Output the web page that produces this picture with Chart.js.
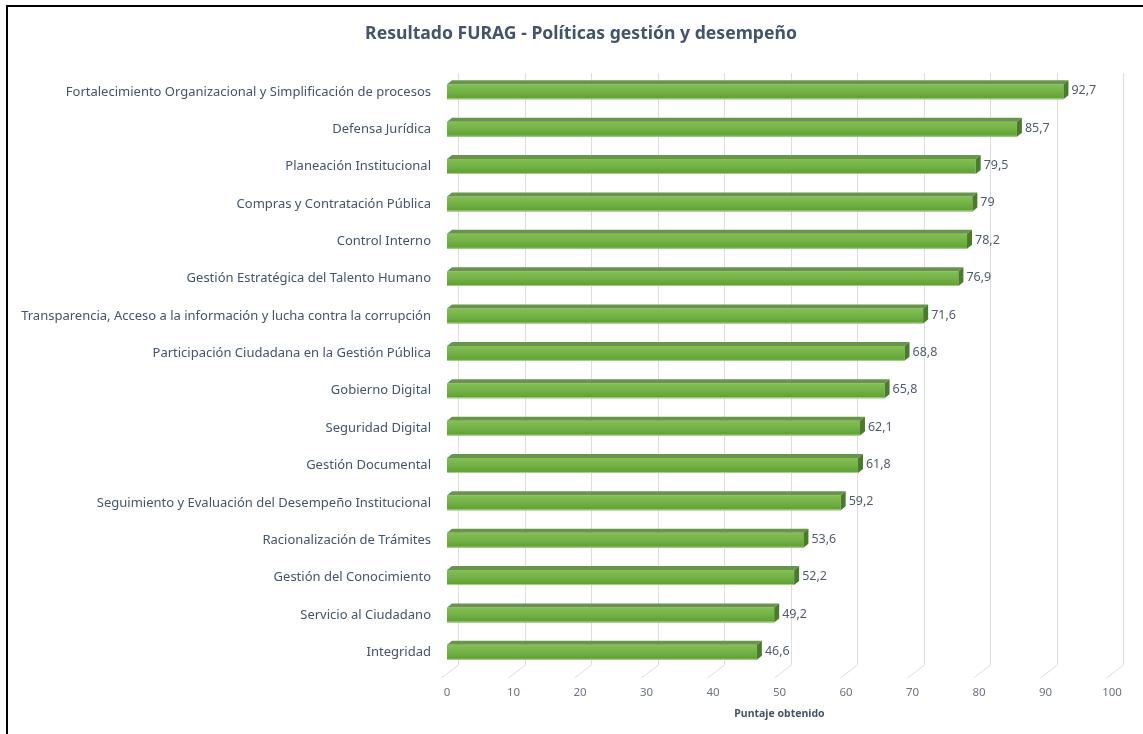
<!DOCTYPE html>
<html>
<head>
<meta charset="utf-8">
<script src="https://cdn.jsdelivr.net/npm/chart.js@4.4.1/dist/chart.umd.min.js"></script>
<style>
  html, body { margin: 0; padding: 0; background: #ffffff; overflow: hidden; }
  #marco { position: absolute; left: 6px; top: 5px; width: 1200px; height: 800px;
           border-left: 2px solid #000; border-top: 2px solid #000; }
  #grafico { position: absolute; left: 0; top: 0; }
</style>
</head>
<body>
<div id="marco"></div>
<canvas id="grafico" width="1143" height="734"></canvas>
<script>
// Datos del gráfico
const categorias = [
    "Fortalecimiento Organizacional y Simplificación de procesos",
    "Defensa Jurídica",
    "Planeación Institucional",
    "Compras y Contratación Pública",
    "Control Interno",
    "Gestión Estratégica del Talento Humano",
    "Transparencia, Acceso a la información y lucha contra la corrupción",
    "Participación Ciudadana en la Gestión Pública",
    "Gobierno Digital",
    "Seguridad Digital",
    "Gestión Documental",
    "Seguimiento y Evaluación del Desempeño Institucional",
    "Racionalización de Trámites",
    "Gestión del Conocimiento",
    "Servicio al Ciudadano",
    "Integridad"
];
const puntajes = [92.7, 85.7, 79.5, 79, 78.2, 76.9, 71.6, 68.8, 65.8, 62.1, 61.8, 59.2, 53.6, 52.2, 49.2, 46.6];
const ejeMin = 0;
const ejeMax = 100;
const ejePaso = 10;

const fuente = "'Noto Sans', 'Open Sans', sans-serif";
const colorTexto = "#44546a";
const prof = 5;        // profundidad 3D horizontal de la barra
const profY = 4;       // profundidad 3D vertical de la barra
const fondoPared = 11; // desplazamiento de la pared del fondo

// Relleno degradado del frente de cada barra
function rellenoBarra(ctx) {
    const chart = ctx.chart;
    if (!chart.chartArea || !chart.scales.y) return "#70ad47";
    const y = chart.scales.y.getPixelForValue(ctx.dataIndex);
    const g = chart.ctx.createLinearGradient(0, y - 8, 0, y + 8);
    g.addColorStop(0, "#84c157");
    g.addColorStop(0.45, "#74b346");
    g.addColorStop(1, "#5e9c33");
    return g;
}

// El título queda centrado sobre el recuadro del gráfico, no sobre todo el lienzo
const centrarTitulo = {
    id: "centrarTitulo",
    afterLayout(chart) {
        if (chart.titleBlock) chart.titleBlock.left = 50;
    }
};

// Rejilla estilo 3D (pared del fondo + piso)
const rejilla3D = {
    id: "rejilla3D",
    beforeDatasetsDraw(chart) {
        const { ctx, chartArea, scales } = chart;
        ctx.save();
        ctx.strokeStyle = "#dcdce4";
        ctx.lineWidth = 1;
        for (let v = ejeMin; v <= ejeMax; v += ejePaso) {
            const x = Math.round(scales.x.getPixelForValue(v)) + fondoPared + 0.5;
            ctx.beginPath();
            ctx.moveTo(x, chartArea.top);
            ctx.lineTo(x, chartArea.bottom - 6);
            ctx.lineTo(x - fondoPared - 6, chartArea.bottom + 7);
            ctx.stroke();
        }
        ctx.restore();
    }
};

// Caras superior y lateral de las barras
const barras3D = {
    id: "barras3D",
    afterDatasetsDraw(chart) {
        const { ctx } = chart;
        const meta = chart.getDatasetMeta(0);
        ctx.save();
        meta.data.forEach((bar) => {
            const izq = bar.base;
            const der = bar.x;
            const arriba = bar.y - bar.height / 2;
            const abajo = bar.y + bar.height / 2;
            // cara superior
            ctx.fillStyle = "#68954a";
            ctx.beginPath();
            ctx.moveTo(izq, arriba);
            ctx.lineTo(izq + prof, arriba - profY);
            ctx.lineTo(der + prof, arriba - profY);
            ctx.lineTo(der, arriba);
            ctx.closePath();
            ctx.fill();
            // cara lateral
            ctx.fillStyle = "#4b7a2d";
            ctx.beginPath();
            ctx.moveTo(der, arriba);
            ctx.lineTo(der + prof, arriba - profY);
            ctx.lineTo(der + prof, abajo - profY);
            ctx.lineTo(der, abajo);
            ctx.closePath();
            ctx.fill();
            // borde claro inferior
            ctx.fillStyle = "#a8d18a";
            ctx.fillRect(izq, abajo - 1, der - izq, 1);
        });
        ctx.restore();
    }
};

// Etiquetas de valor
const etiquetas = {
    id: "etiquetas",
    afterDatasetsDraw(chart) {
        const { ctx } = chart;
        const meta = chart.getDatasetMeta(0);
        ctx.save();
        ctx.font = "12.5px " + fuente;
        ctx.fillStyle = "#525c6e";
        ctx.textAlign = "left";
        ctx.textBaseline = "middle";
        meta.data.forEach((bar, i) => {
            const texto = String(puntajes[i]).replace(".", ",");
            ctx.fillText(texto, bar.x + prof + 3, bar.y - 1);
        });
        ctx.restore();
    }
};

const ctx = document.getElementById("grafico").getContext("2d");

new Chart(ctx, {
    type: "bar",
    data: {
        labels: categorias,
        datasets: [
            {
                label: "Puntaje obtenido",
                data: puntajes,
                backgroundColor: rellenoBarra,
                borderWidth: 0,
                barPercentage: 0.4,
                categoryPercentage: 1
            }
        ]
    },
    options: {
        indexAxis: "y",
        responsive: false,
        animation: false,
        layout: {
            padding: { left: 0, right: 31, top: 0, bottom: 0 }
        },
        plugins: {
            legend: { display: false },
            tooltip: { enabled: false },
            title: {
                display: true,
                text: "Resultado FURAG - Políticas gestión y desempeño",
                color: colorTexto,
                font: { family: fuente, size: 17.6, weight: "bold" },
                padding: { top: 23, bottom: 29 }
            }
        },
        scales: {
            x: {
                min: ejeMin,
                max: ejeMax,
                ticks: {
                    stepSize: ejePaso,
                    color: "#6d7382",
                    font: { family: fuente, size: 11.5 },
                    padding: 15
                },
                grid: { display: false, drawTicks: false },
                border: { display: false },
                title: {
                    display: true,
                    text: "Puntaje obtenido",
                    color: colorTexto,
                    font: { family: fuente, size: 10.5, weight: "bold" },
                    padding: { top: 0, bottom: 14 }
                },
                afterFit(scale) { scale.height = 63; }
            },
            y: {
                ticks: {
                    color: colorTexto,
                    font: { family: fuente, size: 13 },
                    padding: 16
                },
                grid: { display: false, drawTicks: false },
                border: { display: false },
                afterFit(scale) { scale.width = 447; }
            }
        }
    },
    plugins: [centrarTitulo, rejilla3D, barras3D, etiquetas]
});
</script>
</body>
</html>
